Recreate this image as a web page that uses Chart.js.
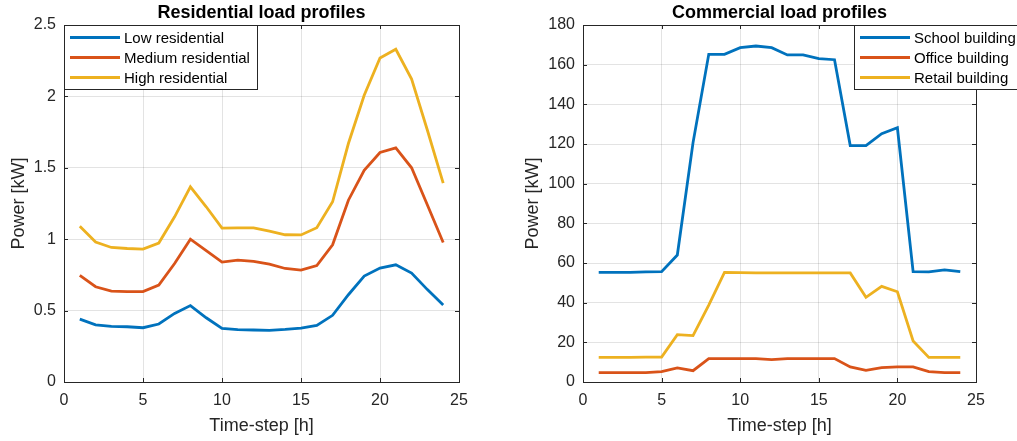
<!DOCTYPE html>
<html>
<head>
<meta charset="utf-8">
<script src="https://cdn.jsdelivr.net/npm/chart.js@4.4.1/dist/chart.umd.min.js"></script>
<style>
  body { margin: 0; background: #fff; }
  #wrap { position: relative; width: 1017px; height: 441px; overflow: hidden; }
  canvas { position: absolute; top: 0; }
</style>
</head>
<body>
<div id="wrap">
  <canvas id="resChart" width="508" height="441" style="left:0"></canvas>
  <canvas id="comChart" width="509" height="441" style="left:508px"></canvas>
</div>
<script>
// hours of the day
let hours = [1, 2, 3, 4, 5, 6, 7, 8, 9, 10, 11, 12, 13, 14, 15, 16, 17, 18, 19, 20, 21, 22, 23, 24];

// residential profiles [kW]
let lowRes = [0.44, 0.40, 0.39, 0.387, 0.38, 0.406, 0.48, 0.535, 0.45, 0.375, 0.367, 0.364, 0.362, 0.368, 0.378, 0.397, 0.467, 0.611, 0.742, 0.798, 0.821, 0.763, 0.647, 0.539];
let medRes = [0.746, 0.667, 0.637, 0.633, 0.633, 0.679, 0.83, 1.0, 0.92, 0.84, 0.854, 0.845, 0.826, 0.795, 0.784, 0.816, 0.961, 1.273, 1.483, 1.607, 1.64, 1.50, 1.24, 0.977];
let highRes = [1.09, 0.98, 0.942, 0.935, 0.931, 0.973, 1.157, 1.367, 1.227, 1.078, 1.08, 1.08, 1.057, 1.031, 1.03, 1.08, 1.262, 1.67, 2.008, 2.269, 2.33, 2.122, 1.763, 1.392];

// commercial profiles [kW]
let school = [55.3, 55.3, 55.3, 55.5, 55.6, 64.0, 120.7, 165.2, 165.2, 168.6, 169.4, 168.6, 164.9, 164.9, 163.0, 162.5, 119.2, 119.2, 125.2, 128.2, 55.6, 55.5, 56.5, 55.6];
let office = [4.7, 4.7, 4.7, 4.7, 5.2, 7.1, 5.7, 11.8, 11.8, 11.8, 11.8, 11.3, 11.8, 11.8, 11.8, 11.8, 7.6, 5.9, 7.2, 7.6, 7.6, 5.2, 4.7, 4.7];
let retail = [12.4, 12.4, 12.4, 12.5, 12.6, 23.9, 23.4, 38.8, 55.3, 55.1, 55.0, 55.0, 55.0, 55.0, 55.0, 55.0, 55.0, 42.7, 48.2, 45.5, 20.7, 12.4, 12.4, 12.4];

let resLabels = ['Low residential', 'Medium residential', 'High residential'];
let comLabels = ['School building', 'Office building', 'Retail building'];
let colors = ['#0072BD', '#D95319', '#EDB120'];

let FONT = "'Liberation Sans', Arial, Helvetica, sans-serif";
let DARK = '#262626';

function points(vals) {
    return hours.map((h, i) => ({ x: h, y: vals[i] }));
}

// box, inward ticks, title and legend drawn the matlab way
let matlabLook = {
    id: 'matlabLook',
    afterDraw(chart, args, opts) {
        let ctx = chart.ctx;
        let a = chart.chartArea;
        let xs = chart.scales.x, ys = chart.scales.y;
        ctx.save();
        ctx.strokeStyle = DARK;
        ctx.lineWidth = 1;
        // ticks inside, all four sides
        ctx.beginPath();
        xs.ticks.forEach(t => {
            let px = Math.round(xs.getPixelForValue(t.value)) + 0.5;
            ctx.moveTo(px, a.bottom); ctx.lineTo(px, a.bottom - 4);
            ctx.moveTo(px, a.top); ctx.lineTo(px, a.top + 4);
        });
        ys.ticks.forEach(t => {
            let py = Math.round(ys.getPixelForValue(t.value)) + 0.5;
            ctx.moveTo(a.left, py); ctx.lineTo(a.left + 4, py);
            ctx.moveTo(a.right, py); ctx.lineTo(a.right - 4, py);
        });
        ctx.stroke();
        ctx.strokeRect(Math.round(a.left) + 0.5, Math.round(a.top) + 0.5, Math.round(a.right - a.left), Math.round(a.bottom - a.top));

        // title
        ctx.fillStyle = '#000';
        ctx.font = 'bold 18px ' + FONT;
        ctx.textAlign = 'center';
        ctx.textBaseline = 'alphabetic';
        ctx.fillText(opts.title, (a.left + a.right) / 2, 18);

        // legend box
        let lx = opts.legendX, ly = Math.round(a.top);
        ctx.fillStyle = '#fff';
        ctx.fillRect(lx, ly, opts.legendW, 64);
        ctx.strokeStyle = DARK;
        ctx.strokeRect(lx + 0.5, ly + 0.5, opts.legendW, 64);
        ctx.font = '15px ' + FONT;
        ctx.textAlign = 'left';
        ctx.textBaseline = 'middle';
        chart.data.datasets.forEach((ds, i) => {
            let yy = ly + 12.5 + i * 20;
            ctx.strokeStyle = ds.borderColor;
            ctx.lineWidth = 3;
            ctx.beginPath();
            ctx.moveTo(lx + 6, yy); ctx.lineTo(lx + 56, yy);
            ctx.stroke();
            ctx.fillStyle = '#000';
            ctx.fillText(ds.label, lx + 60, yy + 1);
        });
        ctx.restore();
    }
};

function makeChart(id, labels, series, yMax, yStep, yWidth, rightPad, yTitlePad, title, legendX, legendW) {
    let ctx = document.getElementById(id).getContext('2d');
    return new Chart(ctx, {
        type: 'line',
        data: {
            datasets: series.map((s, i) => ({
                label: labels[i],
                data: points(s),
                borderColor: colors[i],
                backgroundColor: colors[i],
                borderWidth: 2.8,
                pointRadius: 0,
                tension: 0,
                fill: false
            }))
        },
        options: {
            responsive: false,
            animation: false,
            devicePixelRatio: 1,
            layout: { padding: { top: 25, right: rightPad, left: 0, bottom: 0 } },
            plugins: {
                legend: { display: false },
                title: { display: false },
                tooltip: { enabled: false },
                matlabLook: { title: title, legendX: legendX, legendW: legendW }
            },
            scales: {
                x: {
                    type: 'linear',
                    min: 0, max: 25,
                    ticks: { stepSize: 5, color: DARK, font: { size: 16, family: FONT }, padding: 9, maxRotation: 0 },
                    grid: { color: 'rgba(38,38,38,0.13)', drawTicks: false },
                    border: { color: DARK },
                    title: { display: true, text: 'Time-step [h]', color: DARK, font: { size: 18, family: FONT }, padding: { top: 0, bottom: 4 } },
                    afterFit(scale) { scale.height = 59; }
                },
                y: {
                    min: 0, max: yMax,
                    ticks: {
                        stepSize: yStep, color: DARK, font: { size: 16, family: FONT }, padding: 8,
                        callback: v => String(Math.round(v * 100) / 100)
                    },
                    grid: { color: 'rgba(38,38,38,0.13)', drawTicks: false },
                    border: { color: DARK },
                    title: { display: true, text: 'Power [kW]', color: DARK, font: { size: 18, family: FONT }, padding: { top: yTitlePad, bottom: 0 } },
                    afterFit(scale) { scale.width = yWidth; }
                }
            }
        },
        plugins: [matlabLook]
    });
}

makeChart('resChart', resLabels, [lowRes, medRes, highRes], 2.5, 0.5, 64, 49, 8, 'Residential load profiles', 64, 193);
makeChart('comChart', comLabels, [school, office, retail], 180, 20, 75, 41, 14, 'Commercial load profiles', 346, 200);
</script>
</body>
</html>
